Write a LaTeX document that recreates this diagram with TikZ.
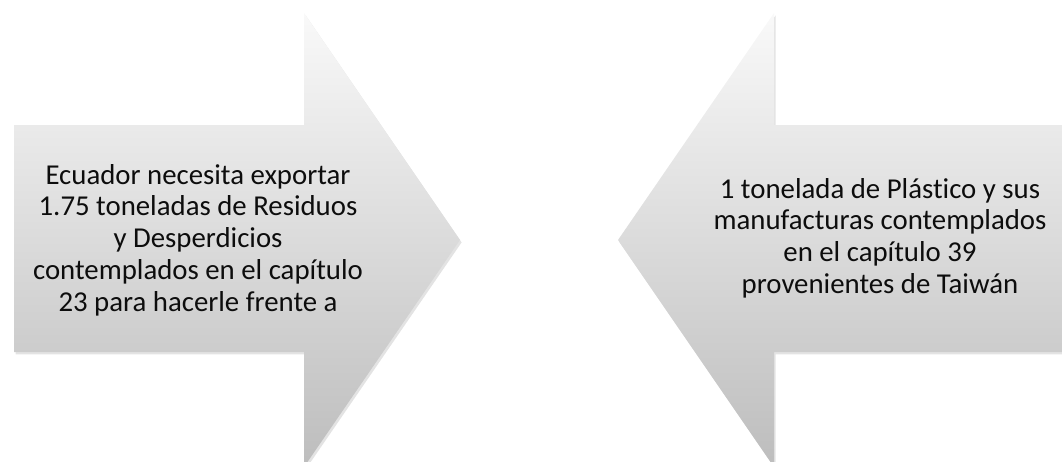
\documentclass[tikz,border=0pt]{standalone}
\usepackage{fontspec}
\setmainfont{Carlito}[Ligatures=NoCommon]
\usetikzlibrary{shadows}
\definecolor{arrowtop}{HTML}{F9F9F9}
\definecolor{arrowbot}{HTML}{BDBDBD}
\definecolor{ink}{HTML}{0D0D0D}
\begin{document}
\begin{tikzpicture}[
   x=0.75pt,y=-0.75pt,
   blockarrow/.style={top color=arrowtop,bottom color=arrowbot,
      drop shadow={opacity=.22,shadow xshift=1.2pt,shadow yshift=-1.8pt}},
   label/.style={align=center,text=ink,inner sep=0pt,
      font=\fontsize{21.6}{23.8}\selectfont}]
\useasboundingbox (0,0) rectangle (1062,461);
% arrows
\path[blockarrow] (14,125) -- (304,125) -- (304,13) -- (460,240) -- (304,467) -- (304,352) -- (14,352) -- cycle;
\path[blockarrow] (1075,125) -- (774,125) -- (774,13) -- (618,240) -- (774,467) -- (774,352) -- (1075,352) -- cycle;
% texts
\node[label] (exporta) at (198,240) {Ecuador necesita exportar\\1.75 toneladas de Residuos\\y Desperdicios\\contemplados en el capítulo\\23 para hacerle frente a};
\node[label] (importa) at (880,238) {1 tonelada de Plástico y sus\\manufacturas contemplados\\en el capítulo 39\\provenientes de Taiwán};
\end{tikzpicture}
\end{document}
